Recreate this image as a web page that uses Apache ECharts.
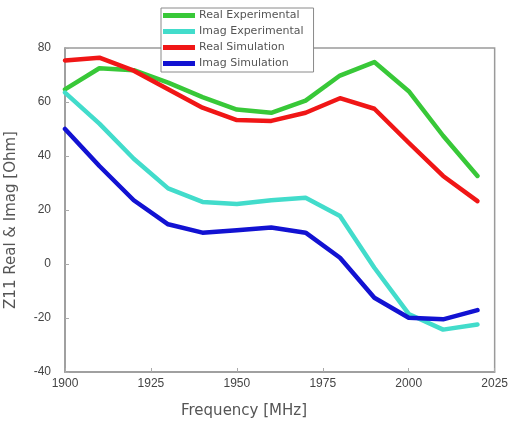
<!DOCTYPE html>
<html>
<head>
<meta charset="utf-8">
<script src="https://cdn.jsdelivr.net/npm/echarts@6/dist/echarts.min.js"></script>
<style>
  html, body { margin: 0; padding: 0; background: #fff; }
  #chart { width: 511px; height: 430px; }
</style>
</head>
<body>
<div id="chart"></div>
<script>
// Frequency sweep (MHz)
const frequencies = [1900, 1910, 1920, 1930, 1940, 1950, 1960, 1970, 1980, 1990, 2000, 2010, 2020];

// Z11 components in Ohm
const realExperimental = [64.7, 72.5, 71.8, 67.2, 61.8, 57.2, 56.0, 60.5, 69.8, 74.8, 64.0, 47.5, 32.6];
const imagExperimental = [63.5, 52.0, 39.0, 28.0, 23.0, 22.2, 23.6, 24.5, 17.8, -1.4, -18.5, -24.3, -22.4];
const realSimulation   = [75.4, 76.4, 71.6, 64.7, 57.9, 53.3, 53.0, 56.0, 61.4, 57.5, 44.9, 32.6, 23.3];
const imagSimulation   = [50.0, 36.3, 23.6, 14.7, 11.6, 12.5, 13.5, 11.6, 2.3, -12.5, -19.9, -20.5, -17.1];

// Axis ticks
const xTicks = [1900, 1925, 1950, 1975, 2000, 2025];
const yTicks = [-40, -20, 0, 20, 40, 60, 80];

const seriesNames = ['Real Experimental', 'Imag Experimental', 'Real Simulation', 'Imag Simulation'];
const seriesColors = ['#38c838', '#42dccb', '#f01616', '#1212d2'];
const seriesValues = [realExperimental, imagExperimental, realSimulation, imagSimulation];

const chart = echarts.init(document.getElementById('chart'), null, { renderer: 'canvas' });

const pair = (vals) => frequencies.map((f, i) => [f, vals[i]]);

chart.setOption({
  animation: false,
  backgroundColor: '#ffffff',
  grid: {
    left: 65, top: 48, right: 15, bottom: 58,
    show: true, borderColor: '#9a9a9a', borderWidth: 1.5, backgroundColor: 'transparent'
  },
  legend: {
    data: seriesNames,
    orient: 'vertical',
    left: 161, top: 8,
    width: 156,
    itemWidth: 32, itemHeight: 5, itemGap: 5,
    icon: 'rect',
    backgroundColor: '#ffffff',
    borderColor: '#8a8a8a', borderWidth: 1,
    padding: [2, 10, 3, 2],
    textStyle: { fontFamily: 'DejaVu Sans', fontSize: 11, color: '#555', padding: [0, 0, 0, -1] }
  },
  xAxis: {
    type: 'value',
    min: xTicks[0], max: xTicks[xTicks.length - 1], interval: 25,
    axisLine: { show: true, onZero: false, lineStyle: { color: '#9a9a9a', width: 1.5 } },
    axisTick: { show: true, inside: true, length: 4, lineStyle: { color: '#aaa' } },
    splitLine: { show: false },
    axisLabel: {
      fontFamily: 'Liberation Sans', fontSize: 12, color: '#444', margin: 6,
      formatter: (v) => String(v)
    }
  },
  yAxis: {
    type: 'value',
    min: yTicks[0], max: yTicks[yTicks.length - 1], interval: 20,
    axisLine: { show: true, onZero: false, lineStyle: { color: '#9a9a9a', width: 1.5 } },
    axisTick: { show: true, inside: true, length: 4, lineStyle: { color: '#aaa' } },
    splitLine: { show: false },
    axisLabel: { fontFamily: 'Liberation Sans', fontSize: 12, color: '#444', margin: 14 }
  },
  graphic: [
    {
      type: 'text', left: 181, top: 404,
      style: { text: 'Frequency [MHz]', font: '15px "DejaVu Sans"', fill: '#555' }
    },
    {
      type: 'text', x: 11, y: 220, rotation: Math.PI / 2,
      style: { text: 'Z11 Real & Imag [Ohm]', font: '15px "DejaVu Sans"', fill: '#555', align: 'center', verticalAlign: 'middle' }
    }
  ],
  series: seriesNames.map((name, i) => ({
    name,
    type: 'line',
    data: pair(seriesValues[i]),
    showSymbol: false,
    smooth: false,
    lineStyle: { color: seriesColors[i], width: 4.5, join: 'round', cap: 'round' },
    itemStyle: { color: seriesColors[i] }
  }))
});
</script>
</body>
</html>
